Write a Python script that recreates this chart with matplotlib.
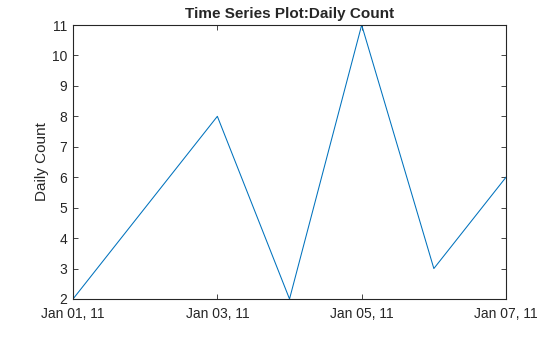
import matplotlib
matplotlib.use("Agg")
import matplotlib.pyplot as plt
import matplotlib.dates as mdates
import numpy as np

dates = np.array(["2011-01-01", "2011-01-02", "2011-01-03", "2011-01-04",
                  "2011-01-05", "2011-01-06", "2011-01-07"], dtype="datetime64[D]")
counts = [2, 5, 8, 2, 11, 3, 6]
tick_dates = np.array(["2011-01-01", "2011-01-03", "2011-01-05", "2011-01-07"],
                      dtype="datetime64[D]")
y_ticks = list(range(2, 12))

plt.rcParams['font.family'] = ['Liberation Sans', 'DejaVu Sans']

fig = plt.figure(figsize=(5.6, 3.37), dpi=100)
ax = fig.add_axes([0.1304, 0.1128, 0.7732, 0.813])

ax.plot(dates, counts, color='#0072BD', linewidth=0.75)

ax.set_xlim(dates[0], dates[-1])
ax.set_ylim(2, 11)
ax.set_xticks(tick_dates)
ax.xaxis.set_major_formatter(mdates.DateFormatter('%b %d, %y'))
ax.set_yticks(y_ticks)

ax.tick_params(direction='in', top=True, right=True, length=3.5, width=0.6,
               labelsize=10, colors='#262626')
ax.tick_params(axis='x', pad=6)
ax.tick_params(axis='y', pad=4)
for s in ax.spines.values():
    s.set_color('#262626')
    s.set_linewidth(0.8)

ax.set_title('Time Series Plot:Daily Count', fontsize=11, fontweight='bold',
             color='#262626', pad=5)
ax.set_ylabel('Daily Count', fontsize=11, color='#262626', labelpad=2)

fig.savefig('out.png', dpi=100)
